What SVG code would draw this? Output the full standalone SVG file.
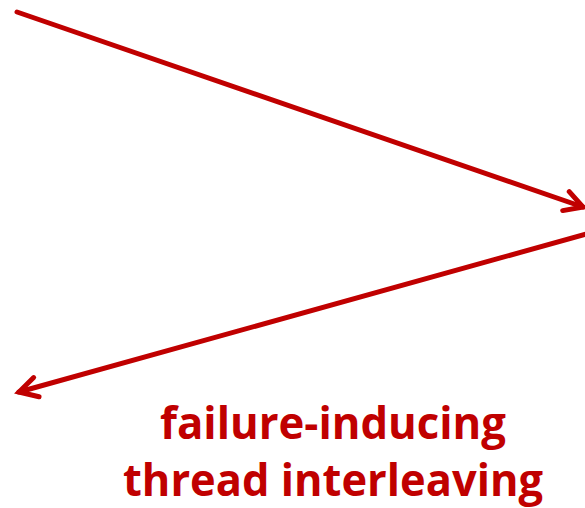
<svg xmlns="http://www.w3.org/2000/svg" width="585" height="508" viewBox="0 0 585 508">
  <style>
    .conn { stroke: #C00000; stroke-width: 5; fill: none; stroke-linecap: round; }
    .lbl { fill: #C00000; font-family: "Open Sans", "Liberation Sans", sans-serif; font-weight: bold; font-size: 45px; text-anchor: middle; }
  </style>
  <defs>
    <marker id="chev" markerUnits="userSpaceOnUse" viewBox="0 0 32 32" markerWidth="32" markerHeight="32" refX="26" refY="16" orient="auto">
      <path d="M8,6 L26,16 L8,26" fill="none" stroke="#C00000" stroke-width="5" stroke-linecap="round" stroke-linejoin="miter"/>
    </marker>
  </defs>
  <rect width="585" height="508" fill="#ffffff"/>
  <g id="connectors">
    <line class="conn" x1="17" y1="12" x2="583" y2="207" marker-end="url(#chev)"/>
    <line class="conn" x1="590" y1="233" x2="19" y2="392" marker-end="url(#chev)"/>
  </g>
  <g id="label">
    <text class="lbl" x="333" y="439" textLength="346" lengthAdjust="spacingAndGlyphs">failure-inducing</text>
    <text class="lbl" x="333" y="496" textLength="420" lengthAdjust="spacingAndGlyphs">thread interleaving</text>
  </g>
</svg>
